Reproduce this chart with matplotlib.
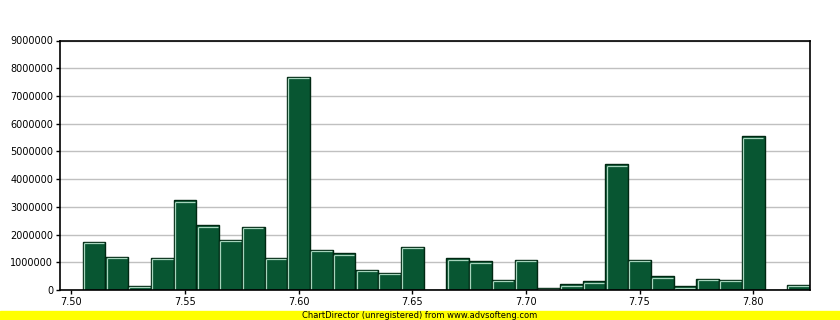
import numpy as np
import matplotlib.pyplot as plt
from matplotlib.patches import Rectangle

# bin centres and counts
BIN_CENTERS = [7.51, 7.52, 7.53, 7.54, 7.55, 7.56, 7.57, 7.58, 7.59, 7.60,
               7.61, 7.62, 7.63, 7.64, 7.65, 7.66, 7.67, 7.68, 7.69, 7.70,
               7.71, 7.72, 7.73, 7.74, 7.75, 7.76, 7.77, 7.78, 7.79, 7.80,
               7.81, 7.82]
COUNTS = [1720000, 1200000, 156000, 1170000, 3230000, 2330000, 1790000, 2260000,
          1170000, 7700000, 1430000, 1320000, 720000, 600000, 1540000, 15000,
          1140000, 1030000, 350000, 1080000, 70000, 200000, 310000, 4530000,
          1080000, 490000, 130000, 400000, 360000, 5540000, 10000, 170000]
BIN_WIDTH = 0.01
X_TICKS = [7.50, 7.55, 7.60, 7.65, 7.70, 7.75, 7.80]
Y_TICKS = [0, 1000000, 2000000, 3000000, 4000000, 5000000, 6000000, 7000000,
           8000000, 9000000]

FILL = "#085632"
DARK = "#002812"
LIGHT = "#a6d4bc"

plt.rcParams["font.family"] = ["DejaVu Sans"]

fig = plt.figure(figsize=(8.4, 3.2), dpi=100)
ax = fig.add_axes([60 / 840, 30 / 320, 750 / 840, 249.5 / 320])

x = np.array(BIN_CENTERS)
y = np.array(COUNTS)
ax.bar(x, y, width=BIN_WIDTH, color=FILL, edgecolor=DARK, linewidth=1.0, zorder=3)

# light highlight on top and left of each bar (bevel look)
dx = 0.0005
dy = 40000
left = x - BIN_WIDTH / 2 + dx
right = x + BIN_WIDTH / 2 - dx
top = np.maximum(y - dy, 0)
ax.vlines(left, 0, top, color=LIGHT, linewidth=0.9, zorder=4)
ax.hlines(top, left, right, color=LIGHT, linewidth=0.9, zorder=4)

ax.set_xlim(7.495, 7.825)
ax.set_ylim(0, 9000000)
ax.set_xticks(X_TICKS)
ax.set_xticklabels([f"{t:.2f}" for t in X_TICKS])
ax.set_yticks(Y_TICKS)
ax.set_yticklabels([str(t) for t in Y_TICKS])
ax.tick_params(labelsize=7, length=3, width=1, pad=2, colors="black")
ax.grid(axis="y", color="#c0c0c0", linewidth=1, zorder=0)
ax.set_axisbelow(True)
for s in ax.spines.values():
    s.set_color("black")
    s.set_linewidth(1.2)
    s.set_zorder(5)

# yellow ChartDirector footer
fig.patches.append(Rectangle((0, 0), 1, 9.5 / 320, transform=fig.transFigure,
                             color="#ffff00", zorder=0))
fig.text(0.5, 4.8 / 320, "ChartDirector (unregistered) from www.advsofteng.com",
         ha="center", va="center", fontsize=6.0, color="black")

fig.savefig("out.png", dpi=100)
